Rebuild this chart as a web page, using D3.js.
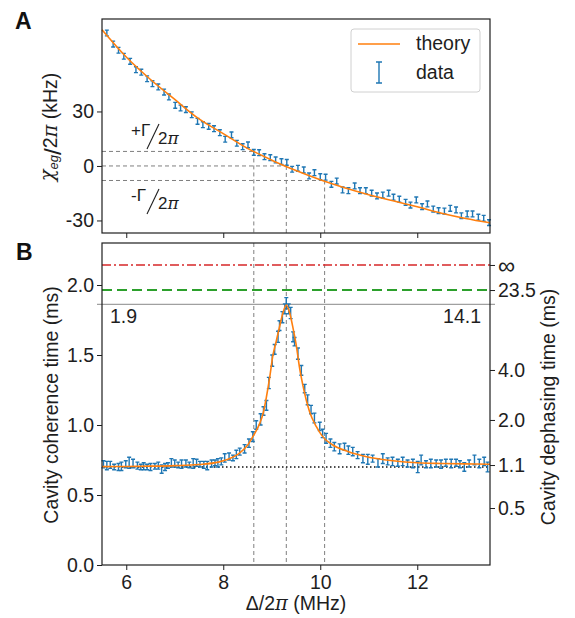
<!DOCTYPE html>
<html>
<head>
<meta charset="utf-8">
<script src="https://cdn.jsdelivr.net/npm/d3@7"></script>
<style>
  body { margin: 0; background: #fff; }
</style>
</head>
<body>
<svg id="fig" width="575" height="618"></svg>
<script>
// ---- panel A : dispersive shift vs detuning ----
const chiDetuning = [5.60,5.73,5.84,5.95,6.08,6.20,6.31,6.43,6.54,6.66,6.78,6.88,7.01,7.12,7.23,7.35,7.47,7.58,7.70,7.81,
  7.93,8.04,8.17,8.28,8.40,8.51,8.63,8.74,8.85,8.97,9.08,9.20,9.31,9.42,9.54,9.66,9.77,9.88,10.00,10.11,
  10.23,10.34,10.46,10.58,10.71,10.82,10.94,11.06,11.17,11.29,11.41,11.51,11.63,11.76,11.86,11.98,12.10,12.21,12.33,12.44,
  12.56,12.68,12.80,12.91,13.03,13.14,13.26,13.37,13.48];
const chiData = [73.2,67.1,63.7,60.4,57.6,53.0,51.6,48.0,45.3,43.5,40.7,38.0,33.4,31.9,31.0,28.2,24.6,22.7,21.8,20.5,
  18.3,14.7,17.1,12.5,10.6,11.6,7.5,7.3,5.1,4.6,3.3,2.4,2.0,-1.8,-1.3,-2.2,-5.5,-3.7,-5.9,-6.2,
  -10.1,-8.3,-13.2,-13.6,-11.0,-13.6,-13.6,-15.0,-16.5,-16.0,-15.0,-17.2,-18.3,-20.0,-21.5,-18.7,-22.4,-20.9,-23.7,-24.6,
  -24.8,-23.3,-24.2,-27.4,-26.4,-26.4,-28.2,-28.8,-31.2];
const chiErr = 1.6;
const chiTheoryDetuning = [5.5,6.0,6.5,7.0,7.5,8.0,8.5,9.0,9.5,10.0,10.5,11.0,11.5,12.0,12.5,13.0,13.5];
const chiTheory = [75.0,60.0,47.6,36.6,25.9,17.8,9.7,3.2,-2.5,-7.6,-12.0,-15.8,-19.2,-22.5,-26.0,-28.9,-31.3];
const chiTicks = [-30, 0, 30];
const gammaLevels = [8, 0, -8];            // +Γ/2π, 0, -Γ/2π (kHz)
const gammaCrossings = [8.63, 9.30, 10.09]; // detuning where the theory crosses them

// ---- panel B : cavity coherence vs detuning ----
const cohDetuning = [5.53,5.60,5.67,5.75,5.84,5.90,5.99,6.06,6.14,6.23,6.30,6.36,6.43,6.50,6.59,6.66,6.73,6.80,6.86,6.93,
  7.00,7.07,7.14,7.23,7.30,7.38,7.45,7.52,7.60,7.67,7.76,7.83,7.89,7.96,8.03,8.12,8.20,8.27,8.34,8.44,
  8.53,8.61,8.68,8.77,8.83,8.89,8.94,9.01,9.06,9.13,9.16,9.22,9.27,9.30,9.35,9.39,9.44,9.47,9.54,9.61,
  9.68,9.74,9.81,9.88,9.99,10.05,10.12,10.21,10.29,10.40,10.50,10.58,10.67,10.77,10.88,10.98,11.08,11.19,11.29,11.39,
  11.49,11.60,11.70,11.80,11.91,12.01,12.08,12.18,12.28,12.39,12.49,12.59,12.70,12.80,12.88,12.97,13.07,13.18,13.28,13.38,13.45];
const cohData = [0.72,0.71,0.715,0.70,0.70,0.705,0.72,0.73,0.725,0.71,0.70,0.705,0.70,0.70,0.705,0.71,0.685,0.70,0.71,0.73,
  0.725,0.715,0.72,0.725,0.715,0.725,0.73,0.72,0.715,0.71,0.725,0.73,0.73,0.74,0.765,0.775,0.765,0.79,0.81,0.83,
  0.87,0.917,1.00,1.04,1.10,1.14,1.30,1.46,1.54,1.63,1.71,1.77,1.83,1.87,1.83,1.80,1.63,1.595,1.51,1.39,
  1.26,1.18,1.11,1.05,0.99,0.94,0.905,0.87,0.845,0.83,0.845,0.82,0.81,0.785,0.76,0.755,0.76,0.73,0.76,0.74,
  0.74,0.73,0.74,0.725,0.725,0.70,0.75,0.72,0.725,0.725,0.72,0.73,0.725,0.73,0.72,0.70,0.725,0.75,0.725,0.74,0.70];
const cohErr = [0.025,0.03,0.025,0.02,0.025,0.03,0.025,0.04,0.03,0.025,0.02,0.025,0.02,0.025,0.02,0.025,0.03,0.025,0.02,0.03,
  0.025,0.02,0.03,0.025,0.02,0.035,0.025,0.02,0.025,0.03,0.025,0.02,0.03,0.025,0.03,0.025,0.02,0.03,0.025,0.03,
  0.03,0.035,0.03,0.04,0.03,0.035,0.04,0.04,0.035,0.04,0.035,0.04,0.035,0.04,0.035,0.04,0.035,0.03,0.04,0.035,
  0.03,0.035,0.03,0.035,0.03,0.03,0.035,0.03,0.03,0.035,0.025,0.03,0.03,0.025,0.03,0.035,0.025,0.03,0.035,0.025,
  0.03,0.025,0.03,0.025,0.03,0.04,0.035,0.025,0.03,0.025,0.03,0.025,0.03,0.025,0.025,0.03,0.025,0.035,0.03,0.03,0.035];
const cohTheoryDetuning = [5.5,6.0,6.5,7.0,7.5,7.9,8.1,8.3,8.5,8.61,8.75,8.82,8.89,8.96,9.02,9.09,9.16,9.23,9.30,
  9.37,9.44,9.51,9.57,9.64,9.71,9.78,9.92,10.05,10.26,10.57,11.0,11.5,12.0,12.5,13.0,13.5];
const cohTheory = [0.703,0.704,0.706,0.710,0.718,0.735,0.755,0.79,0.855,0.917,1.01,1.08,1.20,1.345,1.49,1.595,1.70,1.80,1.857,
  1.80,1.69,1.56,1.416,1.286,1.18,1.095,0.988,0.917,0.857,0.81,0.77,0.745,0.73,0.725,0.722,0.72];
const cohTicks = [0, 0.5, 1.0, 1.5, 2.0];
const dephTickPos = [2.143, 1.964, 1.393, 1.036, 0.714, 0.407];  // on the coherence scale
const dephTickLabels = ["\u221e", "23.5", "4.0", "2.0", "1.1", "0.5"];
const cohInfinite = 2.143;  // T_phi = inf
const cohBest = 1.964;      // T_phi = 23.5 ms
const cohBreak = 1.862;     // 1.9 ms / 14.1 ms
const cohFloor = 0.70;
const detTicks = [6, 8, 10, 12];

// ---- drawing ----
const svg = d3.select("#fig");
const FONT = "'Liberation Sans', Arial, Helvetica, sans-serif";
const blue = "#1f77b4", orange = "#ff7f0e", ink = "#1e1e1e";

const x = d3.scaleLinear().domain([5.5, 13.5]).range([102, 490]);
const yA = d3.scaleLinear().domain([-36.9, 80.9]).range([233, 19]);
const yB = d3.scaleLinear().domain([0, 2.3]).range([565, 243]);

function styleAxis(g) {
  g.select(".domain").remove();
  g.selectAll(".tick line").attr("stroke", ink).attr("stroke-width", 1);
  g.selectAll(".tick text").attr("fill", ink).attr("font-family", FONT).attr("font-size", "19.5px");
}

function errorBars(g, xs, ys, errs, yScale, cap) {
  g.selectAll("path.eb").data(xs).enter().append("path")
    .attr("class", "eb")
    .attr("d", (d, i) => {
      const px = x(d);
      const e = Array.isArray(errs) ? errs[i] : errs;
      const y1 = yScale(ys[i] + e), y2 = yScale(ys[i] - e);
      return "M" + px + "," + y1 + "V" + y2 +
             "M" + (px - cap) + "," + y1 + "H" + (px + cap) +
             "M" + (px - cap) + "," + y2 + "H" + (px + cap);
    })
    .attr("fill", "none")
    .attr("stroke", blue)
    .attr("stroke-width", 1.4);
}

function hline(g, yv, yScale, x0, x1, color, dash, width) {
  g.append("line")
    .attr("x1", x0).attr("x2", x1)
    .attr("y1", yScale(yv)).attr("y2", yScale(yv))
    .attr("stroke", color)
    .attr("stroke-width", width)
    .attr("stroke-dasharray", dash);
}

// panel A
const gA = svg.append("g");
gA.append("g").attr("transform", "translate(102,0)")
  .call(d3.axisLeft(yA).tickValues(chiTicks).tickSize(5).tickPadding(3).tickFormat(d => String(d)))
  .call(styleAxis);
gA.append("g").attr("transform", "translate(0,233)")
  .call(d3.axisBottom(x).tickValues(detTicks).tickSize(5).tickFormat(""))
  .call(styleAxis);

gammaLevels.forEach((lv, i) => {
  hline(gA, lv, yA, x.range()[0], x(gammaCrossings[i]), "#7f7f7f", "4,3", 1);
  gA.append("line")
    .attr("x1", x(gammaCrossings[i])).attr("x2", x(gammaCrossings[i]))
    .attr("y1", yA(lv)).attr("y2", 233)
    .attr("stroke", "#7f7f7f").attr("stroke-width", 1).attr("stroke-dasharray", "4,3");
});

errorBars(gA, chiDetuning, chiData, chiErr, yA, 2);

gA.append("path")
  .datum(chiTheoryDetuning)
  .attr("d", d3.line().x(d => x(d)).y((d, i) => yA(chiTheory[i])).curve(d3.curveMonotoneX))
  .attr("fill", "none").attr("stroke", orange).attr("stroke-width", 1.6);

gA.append("rect").attr("x", 102).attr("y", 19).attr("width", 388).attr("height", 214)
  .attr("fill", "none").attr("stroke", ink).attr("stroke-width", 1.2);

// Γ annotations: numerator, thin slanted bar, denominator
function slashFrac(g, x0, y0, top) {
  g.append("text").attr("x", x0).attr("y", y0)
    .attr("font-family", FONT).attr("font-size", "17px").attr("fill", ink).text(top);
  g.append("line")
    .attr("x1", x0 + 16).attr("y1", y0 + 13)
    .attr("x2", x0 + 28).attr("y2", y0 - 12)
    .attr("stroke", ink).attr("stroke-width", 1.1);
  const d = g.append("text").attr("x", x0 + 27).attr("y", y0 + 8)
    .attr("font-family", FONT).attr("font-size", "17px").attr("fill", ink);
  d.append("tspan").text("2");
  d.append("tspan").attr("font-style", "italic").attr("font-family", "'DejaVu Serif', serif").text("\u03c0");
}
slashFrac(gA, 131, 136, "+\u0393");
slashFrac(gA, 131, 201, "-\u0393");

// y label A
const labA = gA.append("text")
  .attr("transform", "translate(57,127) rotate(-90)")
  .attr("text-anchor", "middle")
  .attr("font-family", FONT).attr("font-size", "19.5px").attr("fill", ink);
labA.append("tspan").attr("font-style", "italic").attr("font-family", "'DejaVu Serif', serif").attr("dy", -3).text("\u03c7");
labA.append("tspan").attr("font-style", "italic").attr("font-size", "13px").attr("dy", 4).text("eg");
labA.append("tspan").attr("font-size", "24px").attr("font-weight", 300).attr("dy", 3).text("/");
labA.append("tspan").attr("dy", -4).text("2");
labA.append("tspan").attr("font-style", "italic").attr("font-family", "'DejaVu Serif', serif").text("\u03c0");
labA.append("tspan").text(" (kHz)");

// legend
const leg = gA.append("g");
leg.append("rect").attr("x", 351).attr("y", 29).attr("width", 129).attr("height", 63).attr("rx", 3)
  .attr("fill", "#fff").attr("fill-opacity", 0.85).attr("stroke", "#d0d0d0").attr("stroke-width", 1);
leg.append("line").attr("x1", 358).attr("x2", 400).attr("y1", 44).attr("y2", 44)
  .attr("stroke", orange).attr("stroke-width", 1.6);
leg.append("path").attr("d", "M379,62V83M376,62H382M376,83H382")
  .attr("fill", "none").attr("stroke", blue).attr("stroke-width", 1.4);
leg.append("text").attr("x", 416).attr("y", 50).text("theory");
leg.append("text").attr("x", 416).attr("y", 79).text("data");
leg.selectAll("text").attr("font-family", FONT).attr("font-size", "19.5px").attr("fill", ink);

// panel B
const gB = svg.append("g");
gB.append("g").attr("transform", "translate(102,0)")
  .call(d3.axisLeft(yB).tickValues(cohTicks).tickSize(5).tickPadding(3).tickFormat(d3.format(".1f")))
  .call(styleAxis);
gB.append("g").attr("transform", "translate(490,0)")
  .call(d3.axisRight(yB).tickValues(dephTickPos).tickSize(5).tickPadding(3).tickFormat((d, i) => dephTickLabels[i]))
  .call(styleAxis);
gB.selectAll(".tick text").filter(d => d === cohInfinite).attr("font-size", "24px").attr("dy", "0.36em");
gB.append("g").attr("transform", "translate(0,565)")
  .call(d3.axisBottom(x).tickValues(detTicks).tickSize(5).tickPadding(5))
  .call(styleAxis);

gammaCrossings.forEach(c => {
  gB.append("line")
    .attr("x1", x(c)).attr("x2", x(c))
    .attr("y1", 243).attr("y2", 565)
    .attr("stroke", "#7f7f7f").attr("stroke-width", 1).attr("stroke-dasharray", "4,3");
});

hline(gB, cohInfinite, yB, x.range()[0], x.range()[1], "#d62728", "9,3,2,3", 1.6);
hline(gB, cohBest, yB, x.range()[0], x.range()[1], "#2ca02c", "10,5", 2);
hline(gB, cohBreak, yB, x.range()[0] - 5, x.range()[1] + 5, "#a0a0a0", null, 1.3);
hline(gB, cohFloor, yB, x.range()[0], x.range()[1], "#111", "1.5,2.5", 1.5);

errorBars(gB, cohDetuning, cohData, cohErr, yB, 2);

gB.append("path")
  .datum(cohTheoryDetuning)
  .attr("d", d3.line().x(d => x(d)).y((d, i) => yB(cohTheory[i])).curve(d3.curveMonotoneX))
  .attr("fill", "none").attr("stroke", orange).attr("stroke-width", 1.6);

gB.append("rect").attr("x", 102).attr("y", 243).attr("width", 388).attr("height", 322)
  .attr("fill", "none").attr("stroke", ink).attr("stroke-width", 1.2);

gB.append("text").attr("x", 110).attr("y", 323).text("1.9");
gB.append("text").attr("x", 481).attr("y", 323).attr("text-anchor", "end").text("14.1");
gB.selectAll(":scope > text").attr("font-family", FONT).attr("font-size", "19.5px").attr("fill", ink);

// axis titles
gB.append("text")
  .attr("transform", "translate(58,405) rotate(-90)")
  .attr("text-anchor", "middle")
  .attr("font-family", FONT).attr("font-size", "19.5px").attr("fill", ink)
  .text("Cavity coherence time (ms)");
gB.append("text")
  .attr("transform", "translate(555,407) rotate(-90)")
  .attr("text-anchor", "middle")
  .attr("font-family", FONT).attr("font-size", "19.5px").attr("fill", ink)
  .text("Cavity dephasing time (ms)");

const labX = svg.append("text")
  .attr("x", 296).attr("y", 610)
  .attr("text-anchor", "middle")
  .attr("font-family", FONT).attr("font-size", "19.5px").attr("fill", ink);
labX.append("tspan").text("\u0394");
labX.append("tspan").text("/2");
labX.append("tspan").attr("font-style", "italic").attr("font-family", "'DejaVu Serif', serif").text("\u03c0");
labX.append("tspan").text(" (MHz)");

// panel letters
svg.append("text").attr("x", 15).attr("y", 29).text("A");
svg.append("text").attr("x", 16).attr("y", 260).text("B");
svg.selectAll(":scope > text").filter(function () { return this.textContent.length === 1; })
  .attr("font-family", FONT).attr("font-size", "23px").attr("font-weight", "bold").attr("fill", "#111");
</script>
</body>
</html>
